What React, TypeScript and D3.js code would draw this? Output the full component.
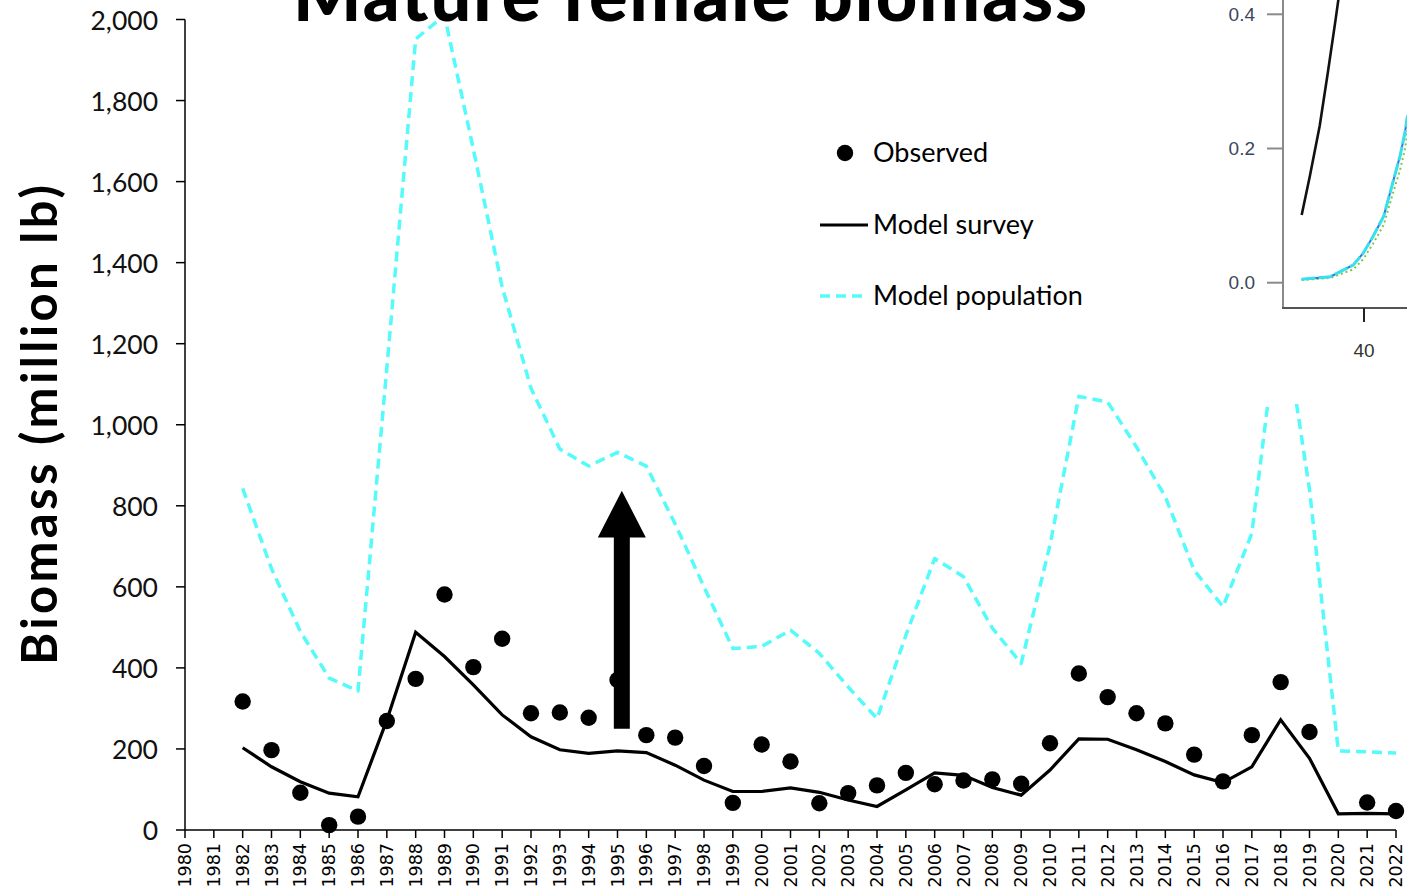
import React from "react";
import * as d3 from "d3";

const years: number[] = d3.range(1980, 2023);

const observed: (number | null)[] = [
  null, null, 317, 197, 92, 12, 33, 269, 373, 581, 402, 472, 288, 290, 277, 370,
  234, 228, 158, 67, 211, 169, 66, 91, 110, 141, 113, 122, 125, 114, 214, 386,
  328, 288, 263, 186, 120, 234, 365, 242, null, 68, 47,
];

const modelSurvey: (number | null)[] = [
  null, null, 203, 156, 119, 91, 82, 271, 488, 428, 358, 284, 230, 198, 189, 195,
  191, 160, 123, 95, 95, 104, 93, 74, 58, 99, 141, 135, 105, 86, 148, 225,
  224, 198, 169, 136, 117, 156, 272, 177, 40, 41, 40,
];

const modelPopulation: (number | null)[] = [
  null, null, 843, 645, 490, 375, 343, 1140, 1952, 2010, 1680, 1340, 1090, 940, 898, 932,
  898, 755, 600, 448, 453, 493, 436, 353, 275, 480, 670, 625, 498, 411, 703, 1070,
  1056, 945, 822, 641, 551, 732, 1310, 840, 195, 193, 190,
];

const yTicks: number[] = [0, 200, 400, 600, 800, 1000, 1200, 1400, 1600, 1800, 2000];

const arrowYear = 1995.15;
const arrowFrom = 250;
const arrowHeadBase = 722;
const arrowTip = 837;

// inset (maturity curves)
const insetLen: number[] = [32.4, 35.9, 38.7, 39.9, 41.1, 42.4, 43.4, 44.4, 45.0, 45.3];
const insetCyan: number[] = [0.005, 0.009, 0.0265, 0.044, 0.069, 0.099, 0.144, 0.189, 0.224, 0.249];
const insetGreen: number[] = [0.004, 0.007, 0.02, 0.035, 0.058, 0.086, 0.128, 0.168, 0.2, 0.225];
const insetBlackLen: number[] = [32.4, 33.4, 34.6, 35.6, 36.5, 36.9, 37.6];
const insetBlack: number[] = [0.101, 0.159, 0.234, 0.314, 0.389, 0.424, 0.48];
const insetYTicks: number[] = [0, 0.2, 0.4];
const insetXTicks: number[] = [40];

const CYAN = "#55FAFA";
const FONT = "Lato, 'Open Sans', sans-serif";

export default function App() {
  const W = 1407;
  const H = 894;
  const x = d3.scaleLinear().domain([1980, 2022]).range([185, 1396]);
  const y = d3.scaleLinear().domain([0, 2000]).range([830, 19.5]);

  const pts = (arr: (number | null)[]) =>
    years.map((yr, i) => ({ yr, v: arr[i] }));

  const line = d3
    .line<{ yr: number; v: number | null }>()
    .defined((d) => d.v !== null)
    .x((d) => x(d.yr))
    .y((d) => y(d.v as number));

  const fmt = d3.format(",");

  // inset scales
  const ix = d3.scaleLinear().domain([30, 45]).range([1282, 1405]);
  const iy = d3.scaleLinear().domain([0, 0.4]).range([282.7, 14.3]);
  const iline = d3
    .line<[number, number]>()
    .x((d) => ix(d[0]))
    .y((d) => iy(d[1]));
  const zip = (a: number[], b: number[]) => a.map((v, i) => [v, b[i]] as [number, number]);

  const ax = x(arrowYear);
  const arrowPath = [
    [ax - 8, y(arrowFrom)],
    [ax - 8, y(arrowHeadBase)],
    [ax - 24, y(arrowHeadBase)],
    [ax, y(arrowTip)],
    [ax + 24, y(arrowHeadBase)],
    [ax + 8, y(arrowHeadBase)],
    [ax + 8, y(arrowFrom)],
  ];

  return (
    <svg
      width={W}
      height={H}
      style={{ position: "absolute", left: 0, top: 0, background: "#fff" }}
      fontFamily={FONT}
    >
      <defs>
        <clipPath id="insetClip">
          <rect x={1284} y={0} width={130} height={307} />
        </clipPath>
      </defs>
      <rect x={0} y={0} width={W} height={H} fill="#fff" />

      {/* model population */}
      <path
        d={line(pts(modelPopulation)) || ""}
        fill="none"
        stroke={CYAN}
        strokeWidth={3.5}
        strokeDasharray="10 6"
        strokeLinejoin="round"
      />
      {/* model survey */}
      <path
        d={line(pts(modelSurvey)) || ""}
        fill="none"
        stroke="#000"
        strokeWidth={3.2}
        strokeLinejoin="miter"
      />
      {/* observed */}
      {pts(observed)
        .filter((d) => d.v !== null)
        .map((d) => (
          <circle key={d.yr} cx={x(d.yr)} cy={y(d.v as number)} r={8.2} fill="#000" />
        ))}

      {/* arrow */}
      <polygon points={arrowPath.map((p) => p.join(",")).join(" ")} fill="#000" />

      {/* y axis */}
      <line x1={x(1980)} x2={x(1980)} y1={y(2000)} y2={y(0)} stroke="#000" strokeWidth={1.5} />
      {yTicks.map((t) => (
        <g key={t}>
          <line x1={x(1980) - 9} x2={x(1980)} y1={y(t)} y2={y(t)} stroke="#000" strokeWidth={1.5} />
          <text
            x={158}
            y={y(t)}
            textAnchor="end"
            dominantBaseline="central"
            fontSize={26.5}
            fill="#111"
          >
            {fmt(t)}
          </text>
        </g>
      ))}

      {/* x axis */}
      <line x1={x(1980)} x2={x(2022)} y1={y(0)} y2={y(0)} stroke="#000" strokeWidth={1.5} />
      {years.map((yr) => (
        <g key={yr}>
          <line x1={x(yr)} x2={x(yr)} y1={y(0)} y2={y(0) + 8} stroke="#000" strokeWidth={1.5} />
          <text
            transform={`translate(${x(yr)},843) rotate(-90)`}
            textAnchor="end"
            dominantBaseline="central"
            fontSize={17.5}
            fontFamily="'DejaVu Sans', sans-serif"
            fill="#000"
          >
            {yr}
          </text>
        </g>
      ))}

      {/* y axis title */}
      <text
        transform="translate(38,425) rotate(-90)"
        textAnchor="middle"
        dominantBaseline="central"
        fontSize={49}
        fontWeight={700}
        textLength={480}
        fill="#000"
      >
        Biomass (million lb)
      </text>

      {/* legend */}
      <circle cx={845} cy={153} r={8.2} fill="#000" />
      <text x={873} y={162} fontSize={27} fill="#000">
        Observed
      </text>
      <line x1={820} x2={868} y1={225} y2={225} stroke="#000" strokeWidth={3.2} />
      <text x={873} y={234} fontSize={27} fill="#000">
        Model survey
      </text>
      <line x1={820} x2={866} y1={296} y2={296} stroke={CYAN} strokeWidth={3.5} strokeDasharray="10 6" />
      <text x={873} y={305} fontSize={27} fill="#000">
        Model population
      </text>

      {/* title */}
      <text x={293} y={21} fontSize={72} fontWeight={900} textLength={794} fill="#000">
        Mature female biomass
      </text>

      {/* inset image of maturity curves */}
      <rect x={1200} y={0} width={207} height={404} fill="#fff" />
      <g clipPath="url(#insetClip)">
        <path d={iline(zip(insetLen, insetGreen)) || ""} fill="none" stroke="#7CC84A" strokeWidth={2} strokeDasharray="2 3" />
        <path d={iline(zip(insetLen, insetCyan)) || ""} fill="none" stroke="#3B6FE0" strokeWidth={2} />
        <path d={iline(zip(insetLen, insetCyan)) || ""} fill="none" stroke="#38E0EE" strokeWidth={3} strokeDasharray="14 3" />
        <path d={iline(zip(insetBlackLen, insetBlack)) || ""} fill="none" stroke="#111" strokeWidth={2.6} />
      </g>
      <line x1={1283} x2={1283} y1={0} y2={308} stroke="#8a8a8a" strokeWidth={2} />
      <line x1={1282} x2={1407} y1={308} y2={308} stroke="#555" strokeWidth={2} />
      {insetYTicks.map((t) => (
        <g key={t}>
          <line x1={1267} x2={1283} y1={iy(t)} y2={iy(t)} stroke="#8a8a8a" strokeWidth={2} />
          <text
            x={1255}
            y={iy(t)}
            textAnchor="end"
            dominantBaseline="central"
            fontSize={19}
            fontFamily="'Liberation Sans', Arial, sans-serif"
            fill="#3a4660"
          >
            {t.toFixed(1)}
          </text>
        </g>
      ))}
      {insetXTicks.map((t) => (
        <g key={t}>
          <line x1={ix(t)} x2={ix(t)} y1={308} y2={322} stroke="#222" strokeWidth={2} />
          <text
            x={ix(t)}
            y={350}
            textAnchor="middle"
            dominantBaseline="central"
            fontSize={19}
            fontFamily="'Liberation Sans', Arial, sans-serif"
            fill="#333"
          >
            {t}
          </text>
        </g>
      ))}
    </svg>
  );
}
